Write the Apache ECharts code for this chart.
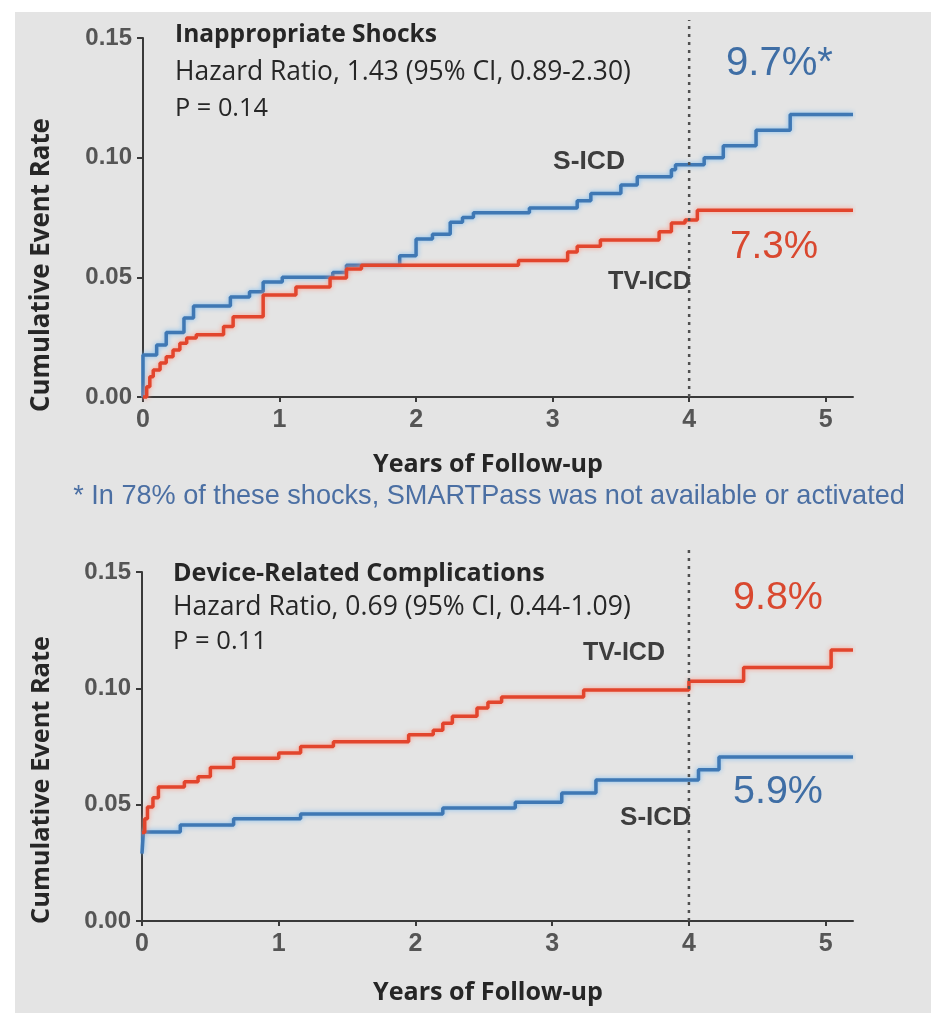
<!DOCTYPE html>
<html><head><meta charset="utf-8">
<script src="https://cdn.jsdelivr.net/npm/echarts@6/dist/echarts.min.js"></script>
<style>
html,body{margin:0;padding:0;background:#fff;}
#c{width:936px;height:1016px;background:linear-gradient(#e4e4e4,#e4e4e4) 15px 12px/916px 1001px no-repeat,#fff;}
</style></head><body><div id="c"></div>
<script>
// ---- data ----
const xTicks = [0, 1, 2, 3, 4, 5];
const yTicks = [0, 0.05, 0.10, 0.15];

// Inappropriate shocks
const shockSicdT = [0, 0, 0.1, 0.17, 0.3, 0.37, 0.64, 0.78, 0.88, 1.02, 1.39, 1.49, 1.88, 2.0, 2.12, 2.25, 2.34, 2.42, 2.83, 3.18, 3.28, 3.5, 3.62, 3.87, 3.9, 4.11, 4.25, 4.49, 4.74, 5.2];
const shockSicdV = [0, 0.0176, 0.0217, 0.027, 0.033, 0.038, 0.0418, 0.044, 0.048, 0.050, 0.052, 0.055, 0.059, 0.066, 0.068, 0.073, 0.075, 0.077, 0.079, 0.082, 0.085, 0.0886, 0.092, 0.095, 0.097, 0.100, 0.105, 0.1115, 0.118, 0.118];
const shockTvT = [0, 0.027, 0.05, 0.075, 0.125, 0.17, 0.22, 0.27, 0.32, 0.39, 0.59, 0.66, 0.88, 1.12, 1.37, 1.49, 1.6, 2.75, 3.11, 3.18, 3.35, 3.78, 3.87, 3.97, 4.06, 5.2];
const shockTvV = [0, 0.0043, 0.0085, 0.0113, 0.0142, 0.0168, 0.0196, 0.0225, 0.0246, 0.026, 0.0295, 0.0335, 0.0426, 0.046, 0.0497, 0.0535, 0.055, 0.057, 0.0606, 0.063, 0.0656, 0.069, 0.0727, 0.074, 0.078, 0.078];

// Device-related complications
const compTvT = [0, 0.02, 0.04, 0.08, 0.12, 0.31, 0.41, 0.5, 0.67, 1.0, 1.16, 1.4, 1.95, 2.13, 2.2, 2.27, 2.45, 2.53, 2.63, 3.23, 4.0, 4.4, 5.04, 5.2];
const compTvV = [0.038, 0.044, 0.049, 0.053, 0.0576, 0.0598, 0.062, 0.066, 0.070, 0.0722, 0.075, 0.077, 0.080, 0.082, 0.085, 0.088, 0.0916, 0.094, 0.0963, 0.0993, 0.103, 0.109, 0.1165, 0.1165];
const compSicdT = [0, 0.01, 0.28, 0.67, 1.16, 2.2, 2.73, 3.07, 3.32, 4.07, 4.22, 5.2];
const compSicdV = [0.029, 0.0383, 0.0413, 0.0439, 0.046, 0.0486, 0.051, 0.055, 0.0606, 0.065, 0.0705, 0.0705];

// 4-year landmark reference line (year, lower and upper extent of the dotted line)
const landmarkYear = 4;
const landmarkTopShock = [0, 0.1575];
const landmarkTopComp = [0, 0.160];

// ---- styling / layout ----
const BLUE = '#3f78b4', BLUE_GLOW = 'rgba(120,185,240,0.95)';
const RED = '#e2452d', RED_GLOW = 'rgba(255,150,130,0.9)';
const AX = '#3a3a3a';

const ctx = document.createElement('canvas').getContext('2d');
function fit(text, family, weight, width) {
  ctx.font = weight + ' 100px ' + family;
  return 100 * width / ctx.measureText(text).width;
}
function txt(x, y, text, opt) {
  const fam = opt.family || '"Open Sans"';
  const wt = opt.weight || 'normal';
  const size = opt.width ? fit(text, fam, wt, opt.width) : opt.size;
  return {
    type: 'text', x: x, y: y, rotation: opt.rot || 0, z: 20, silent: true,
    style: { text: text, fontFamily: fam.replace(/"/g, ''), fontWeight: wt, fontSize: size,
             fill: opt.fill || '#262626', align: opt.align || 'left', verticalAlign: 'middle' }
  };
}
function pairs(t, v) { return t.map((x, i) => [x, v[i]]); }

function xAx(gi) {
  return {
    type: 'value', gridIndex: gi, min: 0, max: 5.2,
    axisLine: { show: true, onZero: false, lineStyle: { color: AX, width: 2 } },
    axisTick: { show: true, customValues: xTicks, length: 5, lineStyle: { color: AX, width: 2 } },
    axisLabel: { customValues: xTicks, fontSize: 25, fontWeight: 'bold', color: '#555', fontFamily: 'Liberation Sans', margin: 11 },
    splitLine: { show: false }
  };
}
function yAx(gi) {
  return {
    type: 'value', gridIndex: gi, min: 0, max: 0.15,
    axisLine: { show: true, lineStyle: { color: AX, width: 2 } },
    axisTick: { show: true, customValues: yTicks, length: 6, lineStyle: { color: AX, width: 2 } },
    axisLabel: { customValues: yTicks, fontSize: 24, fontWeight: 'bold', color: '#555', fontFamily: 'Liberation Sans', margin: 11,
                 formatter: v => v.toFixed(2) },
    splitLine: { show: false }
  };
}
function curve(gi, t, v, color, glow) {
  return {
    type: 'line', xAxisIndex: gi, yAxisIndex: gi, step: 'end', data: pairs(t, v),
    symbol: 'none', clip: false, animation: false, silent: true, z: 3,
    lineStyle: { color: color, width: 3.5, shadowColor: glow, shadowBlur: 5 }
  };
}
function landmark(gi, ext) {
  return {
    type: 'line', xAxisIndex: gi, yAxisIndex: gi, data: ext.map(y => [landmarkYear, y]),
    symbol: 'none', clip: false, animation: false, silent: true, z: 5,
    lineStyle: { color: '#505050', type: [3, 5], width: 2.5 }
  };
}

const series = [
  curve(0, shockSicdT, shockSicdV, BLUE, BLUE_GLOW),
  curve(0, shockTvT, shockTvV, RED, RED_GLOW),
  landmark(0, landmarkTopShock),
  curve(1, compSicdT, compSicdV, BLUE, BLUE_GLOW),
  curve(1, compTvT, compTvV, RED, RED_GLOW),
  landmark(1, landmarkTopComp)
];

const BIGNUM = { family: '"Liberation Sans"' };
const DEV = { family: '"Liberation Sans"', weight: 'bold', fill: '#3d3d3d' };

const graphics = [
  // top panel
  txt(175, 35, 'Inappropriate Shocks', { weight: 'bold', width: 262 }),
  txt(175, 72, 'Hazard Ratio, 1.43 (95% CI, 0.89-2.30)', { width: 456 }),
  txt(175, 109, 'P = 0.14', { width: 93 }),
  txt(726, 64, '9.7%*', Object.assign({ width: 107, fill: '#3f6ea5' }, BIGNUM)),
  txt(553, 162, 'S-ICD', Object.assign({ width: 72 }, DEV)),
  txt(730, 247, '7.3%', Object.assign({ width: 88, fill: '#d9482f' }, BIGNUM)),
  txt(608, 282, 'TV-ICD', Object.assign({ width: 83 }, DEV)),
  txt(488, 465, 'Years of Follow-up', { weight: 'bold', width: 230, align: 'center' }),
  txt(42, 265, 'Cumulative Event Rate', { weight: 'bold', width: 294, align: 'center', rot: Math.PI / 2 }),
  txt(489, 497, '* In 78% of these shocks, SMARTPass was not available or activated',
      { family: '"Liberation Sans"', width: 832, align: 'center', fill: '#4b6fa3' }),
  // bottom panel
  txt(173, 574, 'Device-Related Complications', { weight: 'bold', width: 372 }),
  txt(173, 607, 'Hazard Ratio, 0.69 (95% CI, 0.44-1.09)', { width: 458 }),
  txt(173, 642, 'P = 0.11', { width: 94 }),
  txt(733, 598, '9.8%', Object.assign({ width: 90, fill: '#d9482f' }, BIGNUM)),
  txt(583, 653, 'TV-ICD', Object.assign({ width: 82 }, DEV)),
  txt(733, 792, '5.9%', Object.assign({ width: 90, fill: '#3f6ea5' }, BIGNUM)),
  txt(620, 818, 'S-ICD', Object.assign({ width: 71 }, DEV)),
  txt(488, 993, 'Years of Follow-up', { weight: 'bold', width: 230, align: 'center' }),
  txt(42, 780, 'Cumulative Event Rate', { weight: 'bold', width: 288, align: 'center', rot: Math.PI / 2 })
];

const chart = echarts.init(document.getElementById('c'), null, { renderer: 'canvas' });
chart.setOption({
  backgroundColor: 'transparent',
  animation: false,
  grid: [
    { left: 143, right: 83, top: 38, height: 359 },
    { left: 142, right: 83, top: 572, height: 349 }
  ],
  xAxis: [xAx(0), xAx(1)],
  yAxis: [yAx(0), yAx(1)],
  series: series,
  graphic: graphics
});
</script></body></html>
